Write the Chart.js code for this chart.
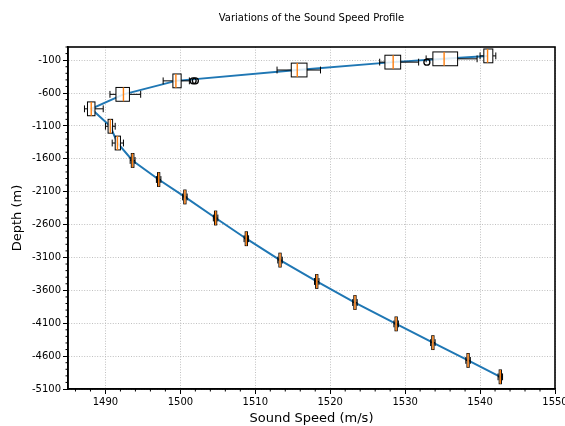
<!DOCTYPE html>
<html><head><meta charset="utf-8">
<script src="https://cdn.jsdelivr.net/npm/chart.js@4.4.1/dist/chart.umd.min.js"></script>
<style>html,body{margin:0;padding:0;background:#fff;}#wrap{width:565px;height:426px;}</style>
</head><body><div id="wrap"><canvas id="c" width="565" height="426"></canvas></div>
<script>
// Depth levels (m) and sound speed distribution stats (m/s)
const depths  = [-35, -80, -130, -250, -415, -620, -840, -1105, -1360, -1625, -1915, -2180, -2500, -2815, -3140, -3465, -3785, -4110, -4395, -4665, -4915];
const medians = [1541.0, 1535.2, 1528.4, 1515.6, 1499.4, 1492.4, 1488.1, 1490.65, 1491.6, 1493.6, 1497.1, 1500.6, 1504.7, 1508.8, 1513.3, 1518.2, 1523.3, 1528.8, 1533.7, 1538.4, 1542.7];
const q1s     = [1540.5, 1533.7, 1527.3, 1514.8, 1499.0, 1491.4, 1487.6, 1490.35, 1491.3, 1493.45, 1496.95, 1500.45, 1504.55, 1508.65, 1513.15, 1518.05, 1523.15, 1528.65, 1533.55, 1538.25, 1542.55];
const q3s     = [1541.7, 1537.0, 1529.4, 1516.9, 1500.1, 1493.2, 1488.6, 1490.95, 1492.0, 1493.8, 1497.25, 1500.75, 1504.85, 1508.95, 1513.45, 1518.35, 1523.45, 1528.95, 1533.85, 1538.55, 1542.85];
const whiskLo = [1540.0, 1532.8, 1526.6, 1512.9, 1497.7, 1490.6, 1487.2, 1490.0, 1490.9, 1493.3, 1496.8, 1500.3, 1504.4, 1508.5, 1513.0, 1517.9, 1523.0, 1528.5, 1533.4, 1538.1, 1542.4];
const whiskHi = [1542.1, 1539.6, 1531.8, 1518.7, 1501.2, 1494.7, 1489.7, 1491.3, 1492.4, 1493.95, 1497.4, 1500.9, 1505.0, 1509.1, 1513.6, 1518.5, 1523.6, 1529.1, 1534.0, 1538.7, 1543.0];
const outliers = [[], [], [1532.9], [], [1501.7, 1502.0], [], [], [], [], [], [], [], [], [], [], [], [], [], [], [], []];

const xTicks = [1490, 1500, 1510, 1520, 1530, 1540, 1550];
const yTicks = [-5100, -4600, -4100, -3600, -3100, -2600, -2100, -1600, -1100, -600, -100];
const X_MIN = 1485, X_MAX = 1550, Y_MIN = -5100, Y_MAX = 100;
const X_MINOR_STEP = 2, Y_MINOR_STEP = 100;

const BOX_HALF = 105;   // half box height, depth units
const CAP_HALF = 52;

Chart.defaults.font.family = "'DejaVu Sans', sans-serif";
Chart.defaults.color = '#000';

const boxPlugin = {
  id: 'boxes',
  afterLayout(chart) {
    const a = chart.chartArea;
    if (chart.titleBlock) { chart.titleBlock.left = a.left; chart.titleBlock.right = a.right; }
  },
  afterDatasetsDraw(chart) {
    const ctx = chart.ctx, xs = chart.scales.x, ys = chart.scales.y;
    ctx.save();
    for (let i = 0; i < depths.length; i++) {
      const yc = ys.getPixelForValue(depths[i]);
      const yt = ys.getPixelForValue(depths[i] + BOX_HALF);
      const yb = ys.getPixelForValue(depths[i] - BOX_HALF);
      const ct = ys.getPixelForValue(depths[i] + CAP_HALF);
      const cb = ys.getPixelForValue(depths[i] - CAP_HALF);
      const xa = xs.getPixelForValue(q1s[i]), xb = xs.getPixelForValue(q3s[i]);
      const xl = xs.getPixelForValue(whiskLo[i]), xh = xs.getPixelForValue(whiskHi[i]);
      const xm = xs.getPixelForValue(medians[i]);
      ctx.lineWidth = 1; ctx.strokeStyle = '#000';
      ctx.beginPath();
      ctx.moveTo(xl, yc); ctx.lineTo(xa, yc);
      ctx.moveTo(xb, yc); ctx.lineTo(xh, yc);
      ctx.moveTo(xl, ct); ctx.lineTo(xl, cb);
      ctx.moveTo(xh, ct); ctx.lineTo(xh, cb);
      ctx.stroke();
      ctx.fillStyle = 'rgba(255,255,255,0.85)';
      ctx.fillRect(xa, yt, xb - xa, yb - yt);
      ctx.strokeRect(xa, yt, xb - xa, yb - yt);
      ctx.strokeStyle = '#ff7f0e'; ctx.lineWidth = 1.4;
      ctx.beginPath(); ctx.moveTo(xm, yt); ctx.lineTo(xm, yb); ctx.stroke();
      ctx.strokeStyle = '#000'; ctx.lineWidth = 1.3;
      for (const o of outliers[i]) {
        ctx.beginPath(); ctx.arc(xs.getPixelForValue(o), yc, 3, 0, Math.PI * 2); ctx.stroke();
      }
    }
    ctx.restore();
  },
  afterDraw(chart) {
    const ctx = chart.ctx, xs = chart.scales.x, ys = chart.scales.y, a = chart.chartArea;
    ctx.save();
    ctx.strokeStyle = '#000'; ctx.lineWidth = 1;
    ctx.beginPath();
    for (let v = X_MIN + 1; v <= X_MAX; v += X_MINOR_STEP) {
      if (v % 10 === 0) continue;
      const p = xs.getPixelForValue(v);
      ctx.moveTo(p, a.bottom); ctx.lineTo(p, a.bottom + 2.5);
    }
    for (let v = Y_MIN; v <= Y_MAX; v += Y_MINOR_STEP) {
      if ((v + 100) % 500 === 0) continue;
      const p = ys.getPixelForValue(v);
      ctx.moveTo(a.left, p); ctx.lineTo(a.left - 2.5, p);
    }
    ctx.stroke();
    ctx.lineWidth = 1.6;
    ctx.strokeRect(a.left, a.top, a.right - a.left, a.bottom - a.top);
    ctx.restore();
  }
};

new Chart(document.getElementById('c'), {
  type: 'scatter',
  data: {
    datasets: [{
      data: depths.map((d, i) => ({ x: medians[i], y: d })),
      showLine: true,
      borderColor: '#1f77b4',
      borderWidth: 2,
      pointRadius: 0,
      tension: 0
    }]
  },
  options: {
    responsive: false,
    animation: false,
    layout: { padding: { left: 0, right: 10, top: 0, bottom: 0 } },
    plugins: {
      legend: { display: false },
      tooltip: { enabled: false },
      title: {
        display: true,
        text: 'Variations of the Sound Speed Profile',
        font: { size: 10, weight: 'normal' },
        color: '#000',
        padding: { top: 12, bottom: 23 }
      }
    },
    scales: {
      x: {
        type: 'linear', min: X_MIN, max: X_MAX,
        afterBuildTicks: s => { s.ticks = xTicks.map(v => ({ value: v })); },
        afterFit: s => { s.height = 37; s.paddingLeft = 0; s.paddingRight = 0; },
        ticks: { callback: v => String(v), font: { size: 10 }, padding: 2, maxRotation: 0, color: '#000' },
        grid: { color: 'rgba(185,185,185,0.9)', lineWidth: 1, tickColor: '#000', tickLength: 5, tickWidth: 1, tickBorderDash: [] },
        border: { display: true, color: '#000', width: 1.6, dash: [1, 1.6] },
        title: { display: true, text: 'Sound Speed (m/s)', font: { size: 13 }, color: '#000', padding: { top: 0, bottom: 0 } }
      },
      y: {
        type: 'linear', min: Y_MIN, max: Y_MAX,
        afterBuildTicks: s => { s.ticks = yTicks.map(v => ({ value: v })); },
        afterFit: s => { s.width = 68; },
        ticks: { callback: v => String(v), font: { size: 10 }, padding: 2, color: '#000' },
        grid: { color: 'rgba(185,185,185,0.9)', lineWidth: 1, tickColor: '#000', tickLength: 5, tickWidth: 1, tickBorderDash: [] },
        border: { display: true, color: '#000', width: 1.6, dash: [1, 1.6] },
        title: { display: true, text: 'Depth (m)', font: { size: 13 }, color: '#000', padding: { top: 10, bottom: 0 } }
      }
    }
  },
  plugins: [boxPlugin]
});
</script>
</body></html>
